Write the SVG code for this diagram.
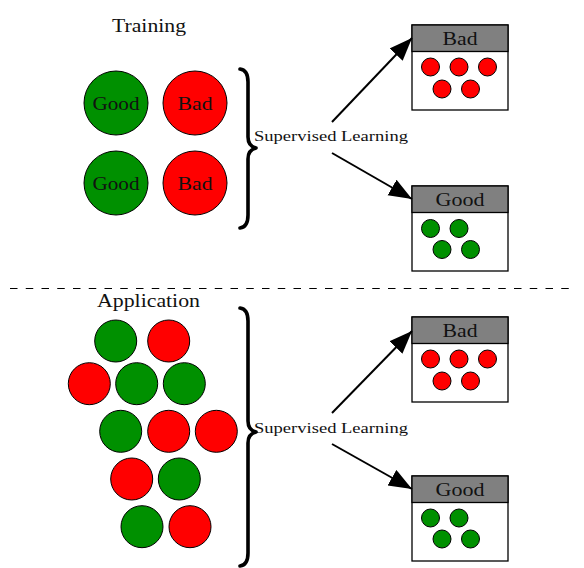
<svg xmlns="http://www.w3.org/2000/svg" width="584" height="568" viewBox="0 0 584 568">
  <style>
    text { font-family: "Liberation Serif", "DejaVu Serif", "Times New Roman", serif; fill: #111; }
    .big { font-size: 19px; text-anchor: middle; }
    .lbl { font-size: 15px; }
    .good { fill: #009000; stroke: #000; stroke-width: 1; }
    .bad { fill: #ff0000; stroke: #000; stroke-width: 1; }
    .box { fill: #fff; stroke: #000; stroke-width: 1.3; }
    .head { fill: #808080; stroke: #000; stroke-width: 1.3; }
    .brace { fill: none; stroke: #000; stroke-width: 3.6; stroke-linecap: round; stroke-linejoin: round; }
    .arrow { fill: none; stroke: #000; stroke-width: 2; marker-end: url(#tip); }
    .sep { stroke: #000; stroke-width: 1.1; stroke-dasharray: 7.5 8.25; }
  </style>
  <defs>
    <!-- filled latex-style arrowhead, sized in user units -->
    <marker id="tip" markerUnits="userSpaceOnUse" markerWidth="26" markerHeight="20" refX="23" refY="9" orient="auto">
      <path d="M0,0 L23,9 L0,18 Z" fill="#000"/>
    </marker>
  </defs>

  <rect width="584" height="568" fill="#fff"/>

  <!-- training section -->
  <g id="training-title">
    <text class="big" x="149" y="32" textLength="74" lengthAdjust="spacingAndGlyphs">Training</text>
  </g>
  <g id="train-good-1">
    <circle class="good" cx="116" cy="103" r="32"/>
    <text class="big" x="116" y="110" textLength="47" lengthAdjust="spacingAndGlyphs">Good</text>
  </g>
  <g id="train-bad-1">
    <circle class="bad" cx="195" cy="103" r="32"/>
    <text class="big" x="195" y="110" textLength="35" lengthAdjust="spacingAndGlyphs">Bad</text>
  </g>
  <g id="train-good-2">
    <circle class="good" cx="116" cy="183" r="32"/>
    <text class="big" x="116" y="190" textLength="47" lengthAdjust="spacingAndGlyphs">Good</text>
  </g>
  <g id="train-bad-2">
    <circle class="bad" cx="195" cy="183" r="32"/>
    <text class="big" x="195" y="190" textLength="35" lengthAdjust="spacingAndGlyphs">Bad</text>
  </g>
  <g id="train-learning">
    <text class="lbl" x="254" y="141" textLength="154" lengthAdjust="spacingAndGlyphs">Supervised Learning</text>
  </g>

  <g id="train-result-bad">
    <rect class="box" x="412" y="25" width="96" height="85"/>
    <rect class="head" x="412" y="25" width="96" height="26.5"/>
    <text class="big" x="460" y="45" textLength="35" lengthAdjust="spacingAndGlyphs">Bad</text>
    <circle class="bad" cx="430.5" cy="67" r="9"/>
    <circle class="bad" cx="459" cy="67" r="9"/>
    <circle class="bad" cx="487.5" cy="67" r="9"/>
    <circle class="bad" cx="442" cy="89" r="9"/>
    <circle class="bad" cx="470.5" cy="89" r="9"/>
  </g>
  <g id="train-result-good">
    <rect class="box" x="412" y="186" width="96" height="85"/>
    <rect class="head" x="412" y="186" width="96" height="26.5"/>
    <text class="big" x="460" y="206" textLength="49" lengthAdjust="spacingAndGlyphs">Good</text>
    <circle class="good" cx="430.5" cy="228.5" r="9"/>
    <circle class="good" cx="459" cy="228.5" r="9"/>
    <circle class="good" cx="442" cy="249.5" r="9"/>
    <circle class="good" cx="470.5" cy="249.5" r="9"/>
  </g>

  <!-- separator -->
  <line class="sep" x1="10" y1="288.5" x2="577" y2="288.5"/>

  <!-- application section -->
  <g id="application-title">
    <text class="big" x="148.5" y="307" textLength="103" lengthAdjust="spacingAndGlyphs">Application</text>
  </g>
  <g id="application-samples">
    <circle class="good" cx="115.7" cy="341" r="21"/>
    <circle class="bad" cx="168.7" cy="341" r="21"/>
    <circle class="bad" cx="89.3" cy="383.7" r="21"/>
    <circle class="good" cx="136.7" cy="383.7" r="21"/>
    <circle class="good" cx="184.3" cy="383.7" r="21"/>
    <circle class="good" cx="120.7" cy="431.3" r="21"/>
    <circle class="bad" cx="168.7" cy="431.3" r="21"/>
    <circle class="bad" cx="216.3" cy="431.3" r="21"/>
    <circle class="bad" cx="131.7" cy="479" r="21"/>
    <circle class="good" cx="179.3" cy="479" r="21"/>
    <circle class="good" cx="142" cy="526.7" r="21"/>
    <circle class="bad" cx="190" cy="526.7" r="21"/>
  </g>
  <g id="app-learning">
    <text class="lbl" x="254" y="433" textLength="154" lengthAdjust="spacingAndGlyphs">Supervised Learning</text>
  </g>

  <g id="app-result-bad">
    <rect class="box" x="412" y="317" width="96" height="85"/>
    <rect class="head" x="412" y="317" width="96" height="26.5"/>
    <text class="big" x="460" y="337" textLength="35" lengthAdjust="spacingAndGlyphs">Bad</text>
    <circle class="bad" cx="430.5" cy="359" r="9"/>
    <circle class="bad" cx="459" cy="359" r="9"/>
    <circle class="bad" cx="487.5" cy="359" r="9"/>
    <circle class="bad" cx="442" cy="381" r="9"/>
    <circle class="bad" cx="470.5" cy="381" r="9"/>
  </g>
  <g id="app-result-good">
    <rect class="box" x="412" y="476" width="96" height="85"/>
    <rect class="head" x="412" y="476" width="96" height="26.5"/>
    <text class="big" x="460" y="496" textLength="49" lengthAdjust="spacingAndGlyphs">Good</text>
    <circle class="good" cx="430.5" cy="518" r="9"/>
    <circle class="good" cx="459" cy="518" r="9"/>
    <circle class="good" cx="442" cy="539" r="9"/>
    <circle class="good" cx="470.5" cy="539" r="9"/>
  </g>

  <!-- braces and arrows -->
  <g id="connectors">
    <path class="brace" d="M240,69 Q248,70 248,82 L248,137 Q248,146 256,148 Q248,150 248,159 L248,215 Q248,227 240,228"/>
    <path class="brace" d="M240,308 Q248,309 248,321 L248,421 Q248,430 256,432 Q248,434 248,443 L248,553 Q248,565 240,566"/>
    <line class="arrow" x1="332" y1="122" x2="412" y2="38"/>
    <line class="arrow" x1="332" y1="153" x2="412" y2="199"/>
    <line class="arrow" x1="332" y1="413" x2="412" y2="331"/>
    <line class="arrow" x1="332" y1="444" x2="412" y2="489"/>
  </g>
</svg>
